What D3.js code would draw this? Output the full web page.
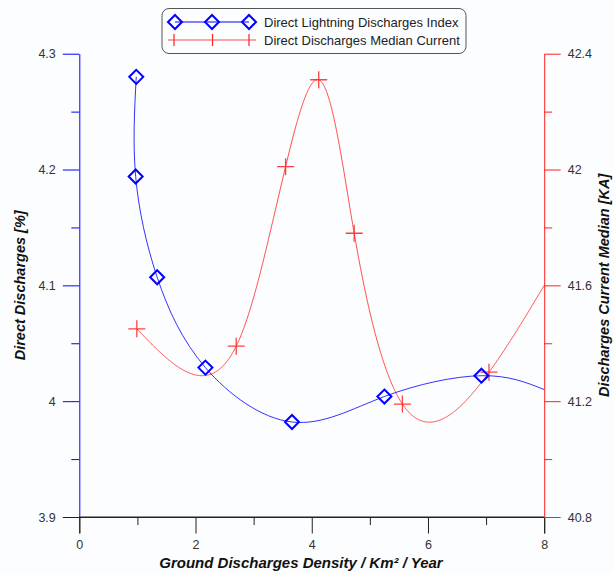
<!DOCTYPE html>
<html><head><meta charset="utf-8">
<script src="https://cdn.jsdelivr.net/npm/d3@7"></script>
<style>
html,body{margin:0;padding:0;background:#fcfdfe;}
svg{display:block;}
text{font-family:"Liberation Sans",Arial,sans-serif;}
</style></head>
<body>
<svg id="chart" width="614" height="574"></svg>
<script>
// ---- data ----
const indexX = [0.98, 0.97, 1.34, 2.17, 3.66, 5.25, 6.92];
const indexY = [4.28, 4.194, 4.107, 4.029, 3.982, 4.004, 4.022];
const indexCurveEnd = [8, 4.010];
const currentX = [0.99, 2.70, 3.55, 4.12, 4.73, 5.56, 7.05];
const currentY = [41.45, 41.39, 42.01, 42.31, 41.78, 41.19, 41.30];
const currentCurveEnd = [8, 41.6];
const xTicks = [0, 2, 4, 6, 8];
const xMinor = [1, 3, 5, 7];
const leftTicks = [3.9, 4, 4.1, 4.2, 4.3];
const leftMinor = [3.95, 4.05, 4.15, 4.25];
const rightTicks = [40.8, 41.2, 41.6, 42, 42.4];
const rightMinor = [41.0, 41.4, 41.8, 42.2];
const seriesNames = ["Direct Lightning Discharges Index", "Direct Discharges Median Current"];

const svg = d3.select("#chart");
const L = 79.3, R = 544.2, T = 53.7, B = 517;
const x = d3.scaleLinear().domain([0, 8]).range([L, R]);
const yL = d3.scaleLinear().domain([3.9, 4.3]).range([B, T]);
const yR = d3.scaleLinear().domain([40.8, 42.4]).range([B, T]);

const BLUE = "#0000ff", RED = "#ff2020";

// natural cubic spline v(t)
function naturalCoef(t, v) {
  const n = v.length - 1, h = [], a = [], b = [], c = [], r = [];
  for (let i = 0; i < n; i++) h.push(t[i + 1] - t[i]);
  const M = new Array(n + 1).fill(0);
  if (n > 1) {
    for (let i = 1; i < n; i++) {
      a.push(h[i - 1]); b.push(2 * (h[i - 1] + h[i])); c.push(h[i]);
      r.push(6 * ((v[i + 1] - v[i]) / h[i] - (v[i] - v[i - 1]) / h[i - 1]));
    }
    const m = b.length;
    for (let i = 1; i < m; i++) { const w = a[i] / b[i - 1]; b[i] -= w * c[i - 1]; r[i] -= w * r[i - 1]; }
    const s = new Array(m);
    s[m - 1] = r[m - 1] / b[m - 1];
    for (let i = m - 2; i >= 0; i--) s[i] = (r[i] - c[i] * s[i + 1]) / b[i];
    for (let i = 0; i < m; i++) M[i + 1] = s[i];
  }
  return (tt) => {
    let i = 0; while (i < n - 1 && tt > t[i + 1]) i++;
    const A = (t[i + 1] - tt) / h[i], Bq = (tt - t[i]) / h[i];
    return A * v[i] + Bq * v[i + 1] + ((A * A * A - A) * M[i] + (Bq * Bq * Bq - Bq) * M[i + 1]) * h[i] * h[i] / 6;
  };
}
// parametric natural spline, parameter = chord length in data units; output mapped through scales
function dataChordSpline(xs, ys, yScale) {
  const t = [0];
  for (let i = 1; i < xs.length; i++) t.push(t[i - 1] + Math.hypot(xs[i] - xs[i - 1], ys[i] - ys[i - 1]));
  const fx = naturalCoef(t, xs), fy = naturalCoef(t, ys);
  const out = [], N = 800, tot = t[t.length - 1];
  for (let k = 0; k <= N; k++) { const tt = tot * k / N; out.push([x(fx(tt)), yScale(fy(tt))]); }
  return out;
}

const redXs = currentX.concat([currentCurveEnd[0]]), redYs = currentY.concat([currentCurveEnd[1]]);
const blueCurve = indexX.map((v, i) => [x(v), yL(indexY[i])]).concat([[x(indexCurveEnd[0]), yL(indexCurveEnd[1])]]);
svg.append("path").attr("d", d3.line()(dataChordSpline(redXs, redYs, yR))).attr("fill", "none").attr("stroke", RED).attr("stroke-width", 1).attr("stroke-opacity", 0.8);
svg.append("path").attr("d", d3.line().curve(d3.curveNatural)(blueCurve)).attr("fill", "none").attr("stroke", BLUE).attr("stroke-width", 1).attr("stroke-opacity", 0.8);

// markers
function diamond(g, cx, cy) {
  const s = 7;
  g.append("path").attr("d", `M${cx},${cy - s}L${cx + s},${cy}L${cx},${cy + s}L${cx - s},${cy}Z`)
    .attr("fill", "none").attr("stroke", BLUE).attr("stroke-width", 2);
}
function plus(g, cx, cy) {
  const s = 8.5;
  g.append("path").attr("d", `M${cx - s},${cy}H${cx + s}M${cx},${cy - s}V${cy + s}`)
    .attr("fill", "none").attr("stroke", RED).attr("stroke-width", 1.3).attr("stroke-opacity", 0.85);
}
const mg = svg.append("g");
currentX.forEach((v, i) => plus(mg, x(v), yR(currentY[i])));
indexX.forEach((v, i) => diamond(mg, x(v), yL(indexY[i])));

// x axis
const xa = svg.append("g").attr("transform", `translate(0,${B})`)
  .call(d3.axisBottom(x).tickValues(xTicks).tickSize(16.5).tickPadding(7).tickFormat(d3.format("d")));
xa.select(".domain").attr("stroke", "#222");
xa.selectAll(".tick line").attr("stroke", "#222");
xa.selectAll("text").attr("font-size", 12.5).attr("fill", "#333");
svg.append("g").attr("transform", `translate(0,${B})`)
  .call(d3.axisBottom(x).tickValues(xMinor).tickSize(8).tickFormat(""))
  .call(g => g.select(".domain").remove())
  .selectAll(".tick line").attr("stroke", "#222");

// left axis
const la = svg.append("g").attr("transform", `translate(${L},0)`)
  .call(d3.axisLeft(yL).tickValues(leftTicks).tickSize(16.5).tickPadding(7).tickSizeOuter(0).tickFormat(d => d3.format("")(+d.toFixed(1))));
la.select(".domain").attr("stroke", BLUE);
la.selectAll(".tick line").attr("stroke", BLUE);
la.selectAll("text").attr("font-size", 12.5).attr("fill", "#333");
svg.append("g").attr("transform", `translate(${L},0)`)
  .call(d3.axisLeft(yL).tickValues(leftMinor).tickSize(8).tickFormat(""))
  .call(g => g.select(".domain").remove())
  .selectAll(".tick line").attr("stroke", BLUE);

// right axis
const ra = svg.append("g").attr("transform", `translate(${R},0)`)
  .call(d3.axisRight(yR).tickValues(rightTicks).tickSize(16.5).tickPadding(7).tickSizeOuter(0).tickFormat(d => d3.format("")(+d.toFixed(1))));
ra.select(".domain").attr("stroke", RED);
ra.selectAll(".tick line").attr("stroke", RED);
ra.selectAll("text").attr("font-size", 12.5).attr("fill", "#333");
svg.append("g").attr("transform", `translate(${R},0)`)
  .call(d3.axisRight(yR).tickValues(rightMinor).tickSize(8).tickFormat(""))
  .call(g => g.select(".domain").remove())
  .selectAll(".tick line").attr("stroke", RED);

svg.append("line").attr("x1", L).attr("x2", R).attr("y1", B).attr("y2", B).attr("stroke", "#222");

// titles
svg.append("text").attr("x", 301).attr("y", 568).attr("text-anchor", "middle")
  .attr("font-size", 15).attr("font-weight", "bold").attr("font-style", "italic").attr("fill", "#111")
  .text("Ground Discharges Density / Km² / Year");
svg.append("text").attr("transform", `translate(25,${(T + B) / 2}) rotate(-90)`).attr("text-anchor", "middle")
  .attr("font-size", 14.5).attr("font-weight", "bold").attr("font-style", "italic").attr("fill", "#111")
  .text("Direct Discharges [%]");
svg.append("text").attr("transform", `translate(609,${(T + B) / 2}) rotate(-90)`).attr("text-anchor", "middle")
  .attr("font-size", 14.5).attr("font-weight", "bold").attr("font-style", "italic").attr("fill", "#111")
  .text("Discharges Current Median [KA]");

// legend
const lg = svg.append("g");
lg.append("rect").attr("x", 162).attr("y", 8.5).attr("width", 304).attr("height", 45).attr("rx", 7)
  .attr("fill", "#fcfdfe").attr("stroke", "#555").attr("stroke-width", 1);
lg.append("line").attr("x1", 175).attr("x2", 249).attr("y1", 22).attr("y2", 22).attr("stroke", BLUE);
[175, 212, 249].forEach(cx => diamond(lg, cx, 22));
lg.append("line").attr("x1", 168).attr("x2", 256).attr("y1", 40).attr("y2", 40).attr("stroke", RED).attr("stroke-opacity", 0.8);
[174, 212.5, 249].forEach(cx => {
  lg.append("path").attr("d", `M${cx},${40 - 6}V${40 + 6}`).attr("stroke", RED).attr("stroke-width", 1.2);
});
seriesNames.forEach((n, i) => {
  lg.append("text").attr("x", 264).attr("y", 22 + i * 18).attr("dy", "0.35em")
    .attr("font-size", 13).attr("fill", "#222").text(n);
});
</script>
</body></html>
